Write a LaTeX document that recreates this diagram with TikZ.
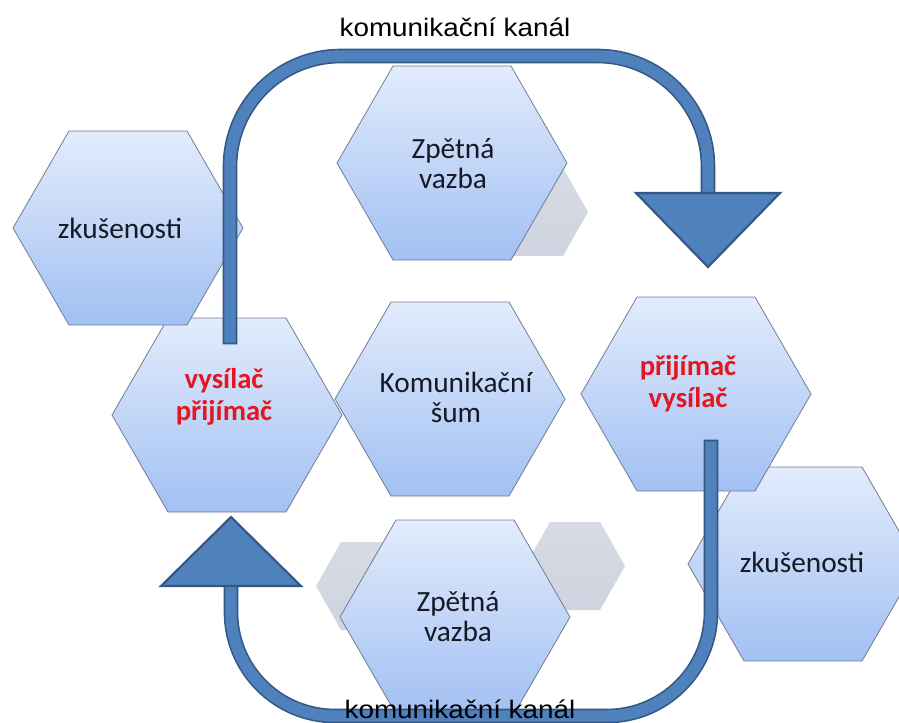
\documentclass[tikz,border=0pt]{standalone}
\usepackage{fontspec}
\setmainfont{Carlito}
\newfontfamily\channelfont{Liberation Sans}
\definecolor{hexTop}{RGB}{226,236,252}
\definecolor{hexBottom}{RGB}{162,192,243}
\definecolor{hexLine}{RGB}{112,124,148}
\definecolor{greyHex}{RGB}{207,212,224}
\definecolor{arrowFill}{RGB}{79,129,189}
\definecolor{arrowLine}{RGB}{52,88,132}
\definecolor{txtDark}{RGB}{22,26,36}
\definecolor{txtRed}{RGB}{228,22,32}

% hexagon with pointed left/right ends: style, centre x, centre y, half width, inset, half height
\newcommand{\hexagonshape}[6]{%
  \begin{scope}[shift={(#2,#3)}]
    \path[#1] ({-#4},0) -- ({-#4+#5},{-#6}) -- ({#4-#5},{-#6}) -- ({#4},0)
      -- ({#4-#5},{#6}) -- ({-#4+#5},{#6}) -- cycle;
  \end{scope}}

\begin{document}
\begin{tikzpicture}[x=0.75pt,y=-0.75pt,
  bluehex/.style={top color=hexTop, bottom color=hexBottom, draw=hexLine, line width=0.6pt, line join=miter},
  greyhex/.style={top color=greyHex!85!white, bottom color=greyHex, draw=none},
  hextext/.style={font=\fontsize{22}{22.5}\selectfont, text=txtDark, align=center, inner sep=0pt},
  redtext/.style={font=\bfseries\fontsize{21.5}{24}\selectfont, text=txtRed, align=center, inner sep=0pt},
  channeltext/.style={font=\channelfont\fontsize{19}{21}\selectfont, text=black, inner sep=0pt, anchor=base, transform shape},
  bandouter/.style={draw=arrowLine, line width=11pt, line cap=rect},
  bandinner/.style={draw=arrowFill, line width=8.6pt, line cap=rect},
  arrowhead/.style={fill=arrowFill, draw=arrowLine, line width=1.6pt, line join=miter}]

\useasboundingbox (0,0) rectangle (899,722);

% small grey hexagons in the background
\hexagonshape{greyhex}{538}{212}{50}{25}{44}
\hexagonshape{greyhex}{366}{586}{50}{25}{44}
\hexagonshape{greyhex}{575}{566}{50}{25}{44}

% main hexagons
\hexagonshape{bluehex}{227}{415}{115}{56}{97}
\hexagonshape{bluehex}{128}{228}{115}{56}{97}
\hexagonshape{bluehex}{452}{163}{115}{56}{97}
\hexagonshape{bluehex}{450}{399}{115}{56}{97}
\hexagonshape{bluehex}{803}{564}{115}{56}{97}
\hexagonshape{bluehex}{696}{394}{115}{56}{97}
\hexagonshape{bluehex}{455}{617}{115}{56}{97}

% anchor points of the two channel arrows
\coordinate (sendTop) at (230,337);
\coordinate (cornerTL) at (230,56);
\coordinate (cornerTR) at (708,56);
\coordinate (headTop) at (708,193);
\coordinate (sendBottom) at (711,447);
\coordinate (cornerBR) at (711,716);
\coordinate (cornerBL) at (231,716);
\coordinate (headBottom) at (231,586);

% upper channel arrow
\draw[bandouter, rounded corners=83pt] (sendTop) -- (cornerTL) -- (cornerTR) -- (headTop);
\draw[bandinner, rounded corners=83pt] (sendTop) -- (cornerTL) -- (cornerTR) -- (headTop);
\path[arrowhead] (headTop) ++(-72,0) -- ++(144,0) -- (708,267) -- cycle;

% lower channel arrow
\draw[bandouter, rounded corners=78pt] (sendBottom) -- (cornerBR) -- (cornerBL) -- (headBottom);
\draw[bandinner, rounded corners=78pt] (sendBottom) -- (cornerBR) -- (cornerBL) -- (headBottom);
\path[arrowhead] (headBottom) ++(-70,0) -- ++(140,0) -- (231,517) -- cycle;

% labels
\node[hextext] (expLeft) at (120,228) {zkušenosti};
\node[redtext] (sendRecv) at (224,397) {vysílač\\přijímač};
\node[hextext] (feedTop) at (453,164) {Zpětná\\vazba};
\node[hextext] (noise) at (456,397) {Komunikační\\šum};
\node[redtext] (recvSend) at (688,384) {přijímač\\vysílač};
\node[hextext] (expRight) at (802,562) {zkušenosti};
\node[hextext] (feedBottom) at (458,617) {Zpětná\\vazba};

\node[channeltext, xscale=1.1] (channelTop) at (455,36) {komunikační kanál};
\node[channeltext, xscale=1.1] (channelBottom) at (460,718) {komunikační kanál};
\end{tikzpicture}
\end{document}
